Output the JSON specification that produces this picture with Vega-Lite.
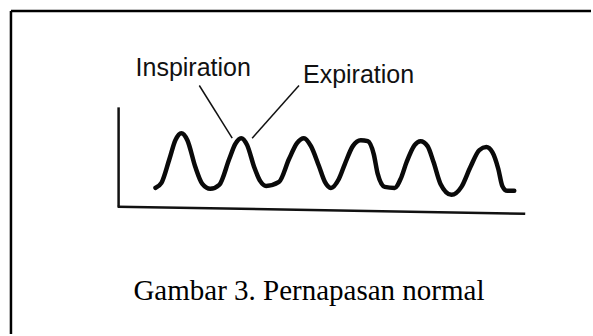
{
  "$schema": "https://vega.github.io/schema/vega-lite/v6.json",
  "width": 593,
  "height": 336,
  "autosize": {"type": "fit", "contains": "padding"},
  "padding": 0,
  "background": "#ffffff",
  "config": {"view": {"stroke": null}},
  "datasets": {
    "wave": [
      {"t": 156, "v": 189}, {"t": 162, "v": 184}, {"t": 170, "v": 160}, {"t": 176, "v": 141}, {"t": 182, "v": 134},
      {"t": 188, "v": 141}, {"t": 196, "v": 168}, {"t": 203, "v": 185}, {"t": 211, "v": 190}, {"t": 220, "v": 186},
      {"t": 230, "v": 160}, {"t": 236, "v": 145}, {"t": 242, "v": 139}, {"t": 248, "v": 146}, {"t": 255, "v": 168},
      {"t": 261, "v": 182}, {"t": 267, "v": 187}, {"t": 280, "v": 183}, {"t": 290, "v": 160}, {"t": 298, "v": 144},
      {"t": 305, "v": 139}, {"t": 312, "v": 147}, {"t": 320, "v": 167}, {"t": 326, "v": 183}, {"t": 332, "v": 189},
      {"t": 340, "v": 180}, {"t": 346, "v": 165}, {"t": 354, "v": 147}, {"t": 362, "v": 141}, {"t": 369, "v": 142},
      {"t": 375, "v": 155}, {"t": 379, "v": 175}, {"t": 386, "v": 188}, {"t": 396, "v": 189}, {"t": 402, "v": 180},
      {"t": 408, "v": 163}, {"t": 416, "v": 146}, {"t": 422, "v": 142}, {"t": 429, "v": 147}, {"t": 435, "v": 163},
      {"t": 442, "v": 185}, {"t": 453, "v": 196}, {"t": 463, "v": 188}, {"t": 472, "v": 168}, {"t": 481, "v": 151},
      {"t": 488, "v": 148}, {"t": 494, "v": 153}, {"t": 500, "v": 170}, {"t": 504, "v": 187}, {"t": 509, "v": 192},
      {"t": 516, "v": 192}
    ],
    "axes": [
      {"part": "vertical", "x1": 119, "y1": 108, "x2": 119, "y2": 208},
      {"part": "horizontal", "x1": 118, "y1": 208, "x2": 527, "y2": 215}
    ],
    "leaders": [
      {"label": "Inspiration", "x1": 200, "y1": 86, "x2": 233, "y2": 139},
      {"label": "Expiration", "x1": 300, "y1": 86, "x2": 253, "y2": 139}
    ],
    "frame": [
      {"side": "top", "x1": 11, "y1": 11, "x2": 593, "y2": 11},
      {"side": "left", "x1": 11, "y1": 11, "x2": 11, "y2": 336}
    ],
    "labels": [
      {"text": "Inspiration", "x": 136, "y": 76.5},
      {"text": "Expiration", "x": 304, "y": 83}
    ],
    "caption": [
      {"text": "Gambar 3. Pernapasan normal", "x": 310, "y": 302}
    ]
  },
  "layer": [
    {
      "data": {"name": "frame"},
      "mark": {"type": "rule", "color": "#000000", "strokeWidth": 2.5},
      "encoding": {
        "x": {"field": "x1", "type": "quantitative", "scale": {"domain": [0, 593], "nice": false, "zero": false}, "axis": null},
        "y": {"field": "y1", "type": "quantitative", "scale": {"domain": [0, 336], "nice": false, "zero": false, "reverse": true}, "axis": null},
        "x2": {"field": "x2"},
        "y2": {"field": "y2"}
      }
    },
    {
      "data": {"name": "axes"},
      "mark": {"type": "rule", "color": "#111111", "strokeWidth": 2.5},
      "encoding": {
        "x": {"field": "x1", "type": "quantitative", "scale": {"domain": [0, 593], "nice": false, "zero": false}, "axis": null},
        "y": {"field": "y1", "type": "quantitative", "scale": {"domain": [0, 336], "nice": false, "zero": false, "reverse": true}, "axis": null},
        "x2": {"field": "x2"},
        "y2": {"field": "y2"}
      }
    },
    {
      "data": {"name": "leaders"},
      "mark": {"type": "rule", "color": "#111111", "strokeWidth": 1.5},
      "encoding": {
        "x": {"field": "x1", "type": "quantitative", "scale": {"domain": [0, 593], "nice": false, "zero": false}, "axis": null},
        "y": {"field": "y1", "type": "quantitative", "scale": {"domain": [0, 336], "nice": false, "zero": false, "reverse": true}, "axis": null},
        "x2": {"field": "x2"},
        "y2": {"field": "y2"}
      }
    },
    {
      "data": {"name": "wave"},
      "mark": {"type": "line", "color": "#0a0a0a", "strokeWidth": 4.5, "interpolate": "monotone", "strokeCap": "round", "strokeJoin": "round"},
      "encoding": {
        "x": {"field": "t", "type": "quantitative", "scale": {"domain": [0, 593], "nice": false, "zero": false}, "axis": null},
        "y": {"field": "v", "type": "quantitative", "scale": {"domain": [0, 336], "nice": false, "zero": false, "reverse": true}, "axis": null}
      }
    },
    {
      "data": {"name": "labels"},
      "mark": {"type": "text", "align": "left", "baseline": "alphabetic", "font": "Liberation Sans", "fontSize": 25, "color": "#111111"},
      "encoding": {
        "x": {"field": "x", "type": "quantitative", "scale": {"domain": [0, 593], "nice": false, "zero": false}, "axis": null},
        "y": {"field": "y", "type": "quantitative", "scale": {"domain": [0, 336], "nice": false, "zero": false, "reverse": true}, "axis": null},
        "text": {"field": "text"}
      }
    },
    {
      "data": {"name": "caption"},
      "mark": {"type": "text", "align": "center", "baseline": "alphabetic", "font": "Liberation Serif", "fontSize": 29, "color": "#000000"},
      "encoding": {
        "x": {"field": "x", "type": "quantitative", "scale": {"domain": [0, 593], "nice": false, "zero": false}, "axis": null},
        "y": {"field": "y", "type": "quantitative", "scale": {"domain": [0, 336], "nice": false, "zero": false, "reverse": true}, "axis": null},
        "text": {"field": "text"}
      }
    }
  ]
}
